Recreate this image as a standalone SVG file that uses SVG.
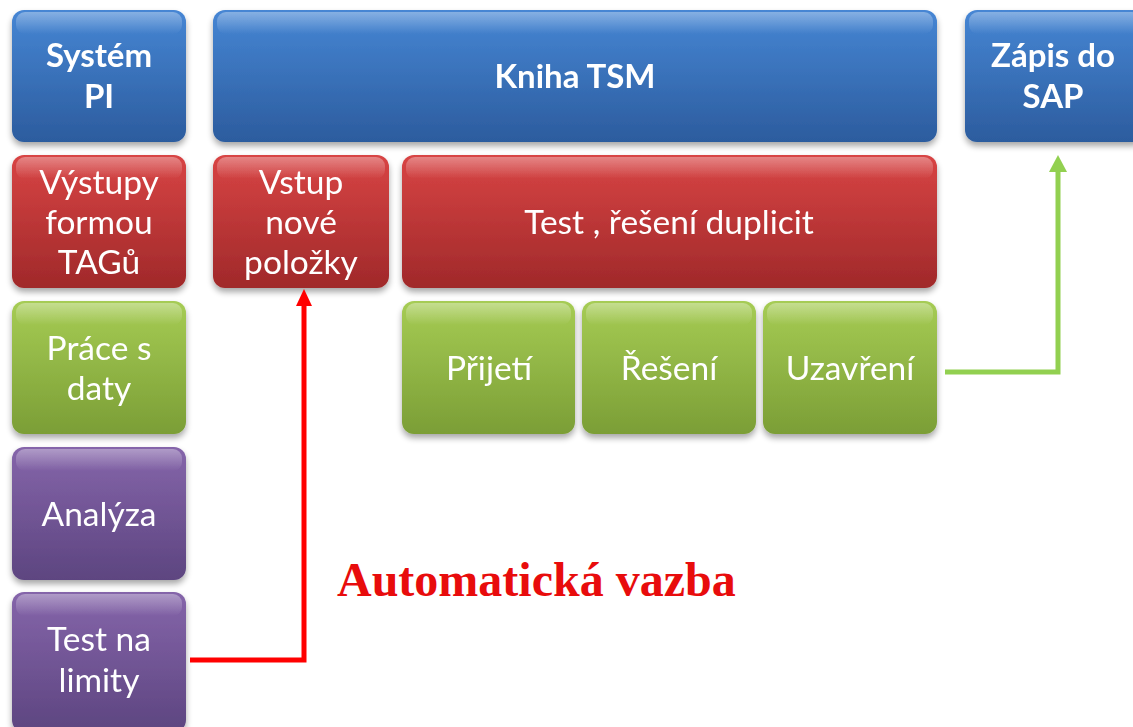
<svg xmlns="http://www.w3.org/2000/svg" width="1133" height="727" viewBox="0 0 1133 727">
<defs>
<linearGradient id="gBlue" x1="0" y1="0" x2="0" y2="1"><stop offset="0" stop-color="#4686d4"/><stop offset="1" stop-color="#2c5c9e"/></linearGradient>
<linearGradient id="gRed" x1="0" y1="0" x2="0" y2="1"><stop offset="0" stop-color="#d84444"/><stop offset="1" stop-color="#a0292a"/></linearGradient>
<linearGradient id="gGreen" x1="0" y1="0" x2="0" y2="1"><stop offset="0" stop-color="#a6cc54"/><stop offset="1" stop-color="#7b9e36"/></linearGradient>
<linearGradient id="gPurple" x1="0" y1="0" x2="0" y2="1"><stop offset="0" stop-color="#8565aa"/><stop offset="1" stop-color="#5d4580"/></linearGradient>
<linearGradient id="gHi" x1="0" y1="0" x2="0" y2="1"><stop offset="0" stop-color="#fff" stop-opacity="0.35"/><stop offset="1" stop-color="#fff" stop-opacity="0"/></linearGradient>
<filter id="sh" x="-10%" y="-10%" width="120%" height="130%"><feGaussianBlur in="SourceAlpha" stdDeviation="3"/><feOffset dy="4" result="b"/><feComponentTransfer><feFuncA type="linear" slope="0.35"/></feComponentTransfer><feMerge><feMergeNode/><feMergeNode in="SourceGraphic"/></feMerge></filter>
</defs>
<style>
.box{filter:url(#sh)}
.hi{fill:url(#gHi)}
.t{font-family:Lato,"Open Sans",sans-serif;font-size:33.5px;fill:#fff;text-anchor:middle}
.b{font-weight:bold;font-size:33px}
.conn{fill:none;stroke-width:5}
</style>
<rect width="1133" height="727" fill="#fff"/>

<g id="systemPI" class="box"><rect x="12" y="10" width="174" height="132" rx="12" fill="url(#gBlue)"/><rect x="16" y="12" width="166" height="22" rx="9" class="hi"/><text class="t b" x="99" y="67">Systém</text><text class="t b" x="99" y="108">PI</text></g>
<g id="knihaTSM" class="box"><rect x="213" y="10" width="724" height="132" rx="12" fill="url(#gBlue)"/><rect x="217" y="12" width="716" height="22" rx="9" class="hi"/><text class="t b" x="575" y="88">Kniha TSM</text></g>
<g id="zapisSAP" class="box"><rect x="965" y="10" width="180" height="132" rx="12" fill="url(#gBlue)"/><rect x="969" y="12" width="172" height="22" rx="9" class="hi"/><text class="t b" x="1053" y="67">Zápis do</text><text class="t b" x="1053" y="108">SAP</text></g>

<g id="vystupy" class="box"><rect x="12" y="155" width="174" height="133" rx="12" fill="url(#gRed)"/><rect x="16" y="157" width="166" height="22" rx="9" class="hi"/><text class="t" x="99" y="194">Výstupy</text><text class="t" x="99" y="234">formou</text><text class="t" x="99" y="274">TAGů</text></g>
<g id="vstup" class="box"><rect x="213" y="155" width="176" height="133" rx="12" fill="url(#gRed)"/><rect x="217" y="157" width="168" height="22" rx="9" class="hi"/><text class="t" x="301" y="194">Vstup</text><text class="t" x="301" y="234">nové</text><text class="t" x="301" y="274">položky</text></g>
<g id="testDuplicit" class="box"><rect x="402" y="155" width="535" height="133" rx="12" fill="url(#gRed)"/><rect x="406" y="157" width="527" height="22" rx="9" class="hi"/><text class="t" x="669" y="234">Test , řešení duplicit</text></g>

<g id="praceDaty" class="box"><rect x="12" y="301" width="174" height="133" rx="12" fill="url(#gGreen)"/><rect x="16" y="303" width="166" height="22" rx="9" class="hi"/><text class="t" x="99" y="360">Práce s</text><text class="t" x="99" y="400">daty</text></g>
<g id="prijeti" class="box"><rect x="402" y="301" width="173" height="133" rx="12" fill="url(#gGreen)"/><rect x="406" y="303" width="165" height="22" rx="9" class="hi"/><text class="t" x="489" y="380">Přijetí</text></g>
<g id="reseni" class="box"><rect x="582" y="301" width="174" height="133" rx="12" fill="url(#gGreen)"/><rect x="586" y="303" width="166" height="22" rx="9" class="hi"/><text class="t" x="669" y="380">Řešení</text></g>
<g id="uzavreni" class="box"><rect x="763" y="301" width="174" height="133" rx="12" fill="url(#gGreen)"/><rect x="767" y="303" width="166" height="22" rx="9" class="hi"/><text class="t" x="850" y="380">Uzavření</text></g>

<g id="analyza" class="box"><rect x="12" y="447" width="174" height="133" rx="12" fill="url(#gPurple)"/><rect x="16" y="449" width="166" height="22" rx="9" class="hi"/><text class="t" x="99" y="526">Analýza</text></g>
<g id="testLimity" class="box"><rect x="12" y="592" width="174" height="140" rx="12" fill="url(#gPurple)"/><rect x="16" y="594" width="166" height="22" rx="9" class="hi"/><text class="t" x="99" y="651">Test na</text><text class="t" x="99" y="692">limity</text></g>

<g id="connectors">
<path class="conn" d="M190,660 H304 V302" stroke="#ff0000"/>
<path d="M296,306 L304,289 L312,306 Z" fill="#ff0000"/>
<path class="conn" d="M945,372 H1058 V170" stroke="#92d050"/>
<path d="M1049,172 L1058,155 L1067,172 Z" fill="#92d050"/>
</g>
<text x="337" y="596" font-family="'Liberation Serif',serif" font-weight="bold" font-size="48" fill="#e80c0c">Automatická vazba</text>
</svg>
